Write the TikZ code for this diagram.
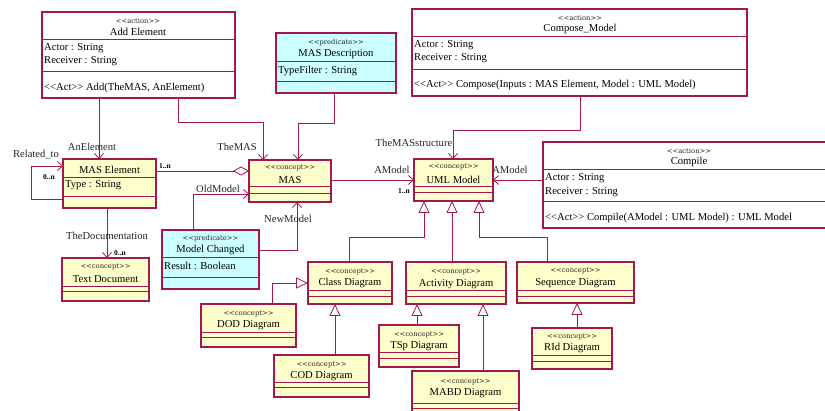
\documentclass[tikz,border=0pt]{standalone}
\usepackage{fontspec}
\setmainfont{Liberation Serif}
\newfontfamily\stereofont{DejaVu Serif}
\usetikzlibrary{arrows.meta}

\definecolor{umlline}{HTML}{A3174F}
\definecolor{conceptfill}{HTML}{FFFFCC}
\definecolor{predfill}{HTML}{CCFFFF}

% double angle brackets kept as two separate characters
\newcommand{\dlt}{<\kern0pt<}
\newcommand{\dgt}{>\kern0pt>}

% a class box: name, left, top, right, bottom, fill
\newcommand{\umlbox}[6]{%
  \node[classbox,fill=#6,minimum width={(#4-#2)*1pt},minimum height={(#5-#3)*1pt}] (#1) at (#2,#3) {};}
% a compartment line across box #1 at height #2
\newcommand{\compline}[2]{\draw[compsep] (#1.west |- 0,#2) -- (#1.east |- 0,#2);}

\begin{document}
\begin{tikzpicture}[x=1pt,y=-1pt,
  classbox/.style={draw=umlline,line width=1.1pt,anchor=north west,inner sep=0pt,outer sep=0pt},
  compsep/.style={draw=umlline,line width=1pt},
  stereo/.style={font=\stereofont\fontsize{6.8}{8}\selectfont,inner sep=0pt,text=black!85},
  cname/.style={font=\fontsize{10.6}{12}\selectfont,inner sep=0pt},
  attr/.style={font=\fontsize{10.6}{12}\selectfont,inner sep=0pt,anchor=west},
  rolelbl/.style={font=\fontsize{10.6}{12}\selectfont,inner sep=0pt,text=black!85},
  multlbl/.style={font=\bfseries\fontsize{7.5}{9}\selectfont,inner sep=0pt},
  assoc/.style={draw=umlline,line width=0.8pt,-{Straight Barb[length=5pt,width=9pt]}},
  gener/.style={draw=umlline,line width=0.8pt,-{Triangle[open,fill=white,length=12pt,width=11pt]}},
  aggreg/.style={draw=umlline,line width=0.8pt,-{Diamond[open,fill=white,length=16pt,width=9pt]}}
]
\useasboundingbox (0,0) rectangle (825,411);
\fill[white] (0,0) rectangle (825,411);

% ---------- action and predicate boxes ----------
\umlbox{addel}{42}{12}{235}{98}{white}
\compline{addel}{40}\compline{addel}{72}
\node[stereo] (addelst) at (138,21) {\dlt action\dgt};
\node[cname] (addelnm) at (138,32) {Add Element};
\node[attr] (addela1) at (44,48) {Actor : String};
\node[attr] (addela2) at (44,61) {Receiver : String};
\node[attr] (addelop) at (44,88) {\dlt Act\dgt{} Add(TheMAS, AnElement)};

\umlbox{masdesc}{276}{33}{396}{93}{predfill}
\compline{masdesc}{62}\compline{masdesc}{82}
\node[stereo] (masdescst) at (336,43) {\dlt predicate\dgt};
\node[cname] (masdescnm) at (336,54) {MAS Description};
\node[attr] (masdesca1) at (278,71) {TypeFilter : String};

\umlbox{compose}{412}{9}{747}{96}{white}
\compline{compose}{37}\compline{compose}{70}
\node[stereo] (composest) at (580,18) {\dlt action\dgt};
\node[cname] (composenm) at (580,29) {Compose\_Model};
\node[attr] (composea1) at (414,45) {Actor : String};
\node[attr] (composea2) at (414,58) {Receiver : String};
\node[attr] (composeop) at (414,85) {\dlt Act\dgt{} Compose(Inputs : MAS Element, Model : UML Model)};

\umlbox{compile}{543}{142}{835}{228}{white}
\compline{compile}{170}\compline{compile}{202}
\node[stereo] (compilest) at (689,151) {\dlt action\dgt};
\node[cname] (compilenm) at (689,162) {Compile};
\node[attr] (compilea1) at (545,178) {Actor : String};
\node[attr] (compilea2) at (545,192) {Receiver : String};
\node[attr] (compileop) at (545,218) {\dlt Act\dgt{} Compile(AModel : UML Model) : UML Model};

\umlbox{modch}{162}{230}{259}{289}{predfill}
\compline{modch}{258}\compline{modch}{278}
\node[stereo] (modchst) at (210.5,239) {\dlt predicate\dgt};
\node[cname] (modchnm) at (210.5,250) {Model Changed};
\node[attr] (modcha1) at (164,266) {Result : Boolean};

% ---------- concept boxes ----------
\umlbox{maselem}{63}{159}{156}{208}{conceptfill}
\compline{maselem}{178}\compline{maselem}{197}
\node[cname] (maselemnm) at (109.5,170) {MAS Element};
\node[attr] (maselema1) at (65,185) {Type : String};

\umlbox{mas}{249}{160}{331}{202}{conceptfill}
\compline{mas}{187}\compline{mas}{194}
\node[stereo] (masst) at (290,168) {\dlt concept\dgt};
\node[cname] (masnm) at (290,180) {MAS};

\umlbox{uml}{414}{159}{493}{201}{conceptfill}
\compline{uml}{187}\compline{uml}{193}
\node[stereo] (umlst) at (453.5,167) {\dlt concept\dgt};
\node[cname] (umlnm) at (453.5,180) {UML Model};

\umlbox{textdoc}{62}{258}{149}{301}{conceptfill}
\compline{textdoc}{287}\compline{textdoc}{292}
\node[stereo] (textdocst) at (105.5,267) {\dlt concept\dgt};
\node[cname] (textdocnm) at (105.5,279) {Text Document};

\umlbox{classd}{308}{262}{392}{304}{conceptfill}
\compline{classd}{291}\compline{classd}{297}
\node[stereo] (classdst) at (350,272) {\dlt concept\dgt};
\node[cname] (classdnm) at (350,283) {Class Diagram};

\umlbox{actd}{406}{262}{506}{304}{conceptfill}
\compline{actd}{291}\compline{actd}{297}
\node[stereo] (actdst) at (456,272) {\dlt concept\dgt};
\node[cname] (actdnm) at (456,284) {Activity Diagram};

\umlbox{seqd}{517}{262}{634}{303}{conceptfill}
\compline{seqd}{291}\compline{seqd}{297}
\node[stereo] (seqdst) at (575.5,271) {\dlt concept\dgt};
\node[cname] (seqdnm) at (575.5,283) {Sequence Diagram};

\umlbox{dod}{201}{304}{296}{347}{conceptfill}
\compline{dod}{333}\compline{dod}{338}
\node[stereo] (dodst) at (248.5,314) {\dlt concept\dgt};
\node[cname] (dodnm) at (248.5,325) {DOD Diagram};

\umlbox{cod}{274}{355}{369}{397}{conceptfill}
\compline{cod}{383}\compline{cod}{388}
\node[stereo] (codst) at (321.5,365) {\dlt concept\dgt};
\node[cname] (codnm) at (321.5,376) {COD Diagram};

\umlbox{tsp}{379}{325}{459}{367}{conceptfill}
\compline{tsp}{353}\compline{tsp}{359}
\node[stereo] (tspst) at (419,335) {\dlt concept\dgt};
\node[cname] (tspnm) at (419,346) {TSp Diagram};

\umlbox{mabd}{412}{371}{519}{420}{conceptfill}
\compline{mabd}{404}\compline{mabd}{409}
\node[stereo] (mabdst) at (465.5,382) {\dlt concept\dgt};
\node[cname] (mabdnm) at (465.5,393) {MABD Diagram};

\umlbox{rid}{532}{328}{612}{369}{conceptfill}
\compline{rid}{356}\compline{rid}{362}
\node[stereo] (ridst) at (572,337) {\dlt concept\dgt};
\node[cname] (ridnm) at (572,348) {RId Diagram};

% ---------- associations ----------
\draw[assoc] (addel.south -| 99,0) -- (maselem.north -| 99,0);
\node[rolelbl] (lblanel) at (92,147) {AnElement};

\draw[assoc] (addel.south -| 178,0) |- (263,122) -- (mas.north -| 263,0);
\draw[assoc] (masdesc.south -| 334,0) |- (298,123) -- (mas.north -| 298,0);
\node[rolelbl] (lblthemas) at (237,147) {TheMAS};

\draw[assoc] (compose.south -| 580,0) |- (453,130) -- (uml.north -| 453,0);
\node[rolelbl] (lblstruct) at (414,143) {TheMASstructure};

\draw[assoc] (maselem.west |- 0,199) -| (31,166) -- (maselem.west |- 0,166);
\node[rolelbl] (lblrel) at (36,155) {Related\_to};
\node[multlbl] (lblrelm) at (49,177) {0..n};

\draw[aggreg] (maselem.east |- 0,171) -- (mas.west |- 0,171);
\node[multlbl] (lblaggm) at (165,166) {1..n};

\draw[assoc] (mas.east |- 0,180) -- (uml.west |- 0,180);
\node[rolelbl] (lblamod1) at (392,170) {AModel};
\node[multlbl] (lblamodm) at (404,191) {1..n};

\draw[assoc] (compile.west |- 0,180) -- (uml.east |- 0,180);
\node[rolelbl] (lblamod2) at (510,170) {AModel};

\draw[assoc] (modch.north -| 193,0) |- (mas.west |- 0,194);
\node[rolelbl] (lblold) at (218,189) {OldModel};

\draw[assoc] (modch.east |- 0,250) -| (mas.south -| 297,0);
\node[rolelbl] (lblnew) at (288,219) {NewModel};

\draw[assoc] (maselem.south -| 107,0) -- (textdoc.north -| 107,0);
\node[rolelbl] (lbldoc) at (107,236) {TheDocumentation};
\node[multlbl] (lbldocm) at (120,253) {0..n};

% ---------- generalizations ----------
\draw[gener] (classd.north -| 349,0) |- (424,237) -- (uml.south -| 424,0);
\draw[gener] (actd.north -| 452,0) -- (uml.south -| 452,0);
\draw[gener] (seqd.north -| 547,0) |- (479,237) -- (uml.south -| 479,0);
\draw[gener] (dod.north -| 272,0) |- (classd.west |- 0,283);
\draw[gener] (cod.north -| 335,0) -- (classd.south -| 335,0);
\draw[gener] (tsp.north -| 417,0) -- (actd.south -| 417,0);
\draw[gener] (mabd.north -| 483,0) -- (actd.south -| 483,0);
\draw[gener] (rid.north -| 577,0) -- (seqd.south -| 577,0);
\end{tikzpicture}
\end{document}
